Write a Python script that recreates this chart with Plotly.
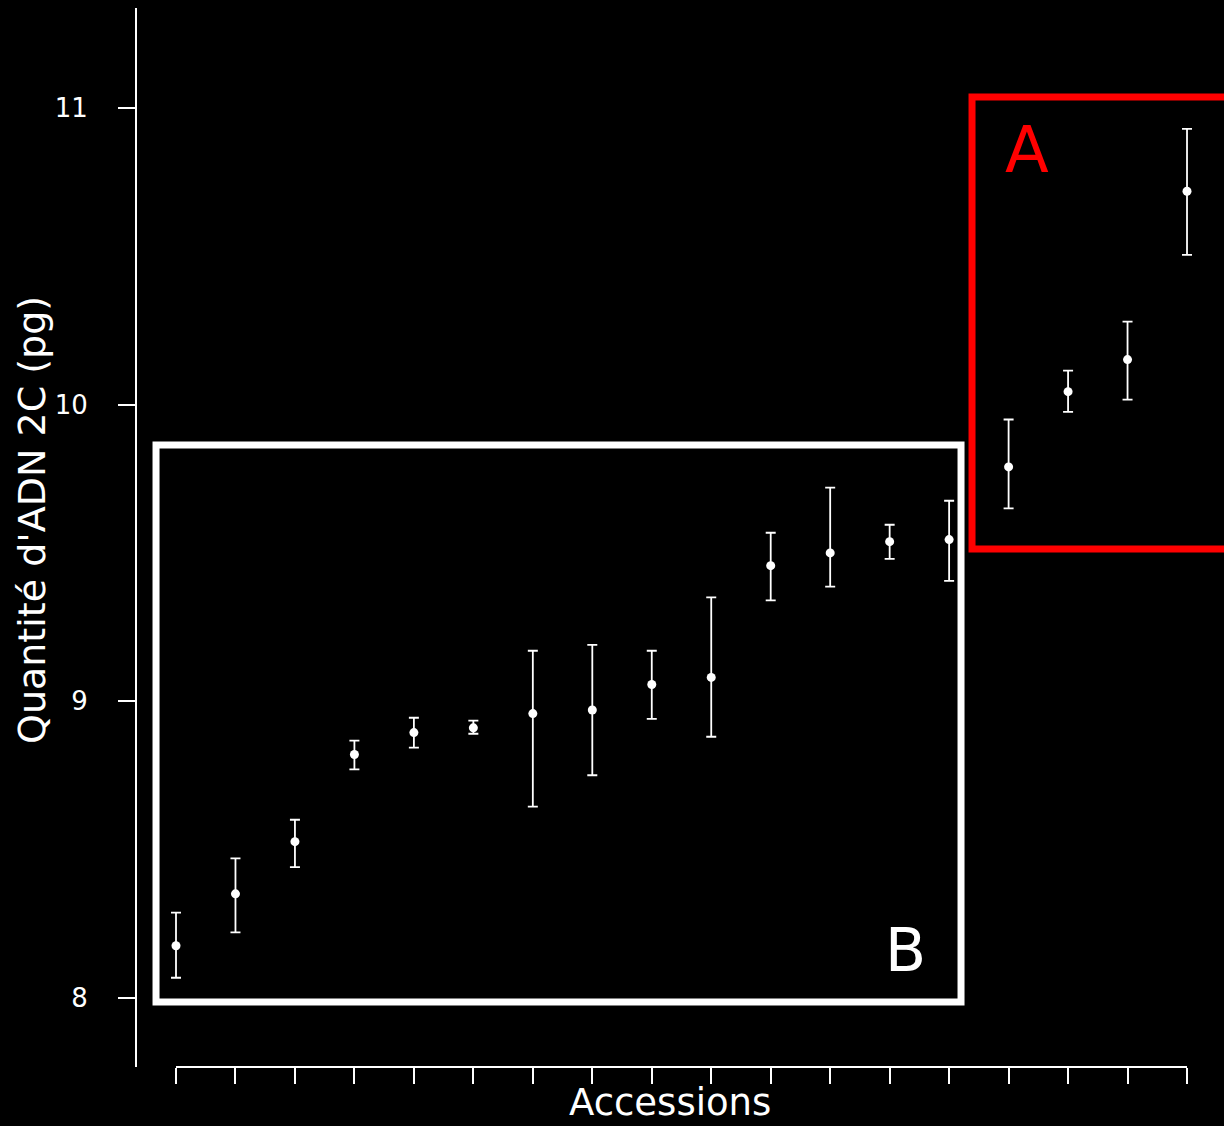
import plotly.graph_objects as go

accessions = list(range(1, 19))
dna_mean = [8.175, 8.35, 8.526, 8.82, 8.894, 8.91, 8.958, 8.97, 9.056, 9.08,
            9.457, 9.50, 9.538, 9.545, 9.79, 10.044, 10.152, 10.72]
dna_upper = [8.287, 8.47, 8.60, 8.867, 8.944, 8.934, 9.17, 9.19, 9.17, 9.35,
             9.568, 9.72, 9.595, 9.676, 9.95, 10.115, 10.28, 10.93]
dna_lower = [8.067, 8.22, 8.44, 8.77, 8.843, 8.89, 8.644, 8.75, 8.94, 8.88,
             9.34, 9.386, 9.48, 9.406, 9.65, 9.976, 10.017, 10.505]
y_ticks = [8, 9, 10, 11]

err_plus = [u - m for u, m in zip(dna_upper, dna_mean)]
err_minus = [m - l for m, l in zip(dna_mean, dna_lower)]

FONT = "DejaVu Sans"

fig = go.Figure()
fig.add_trace(go.Scatter(
    x=accessions, y=dna_mean, mode="markers",
    marker=dict(color="white", size=9),
    error_y=dict(type="data", symmetric=False, array=err_plus, arrayminus=err_minus,
                 color="white", thickness=1.8, width=5),
    showlegend=False, hoverinfo="skip"))

# Boxes
fig.add_shape(type="rect", xref="x", yref="y", x0=0.664, x1=14.2, y0=7.9855, y1=9.864,
              line=dict(color="white", width=7), layer="above")
fig.add_shape(type="rect", xref="x", yref="y", x0=14.385, x1=19.5, y0=9.513, y1=11.038,
              line=dict(color="#ff0000", width=7), layer="above")
# x axis line (between first and last tick)
fig.add_shape(type="line", xref="x", yref="paper", x0=1, x1=18, y0=0, y1=0,
              line=dict(color="white", width=2))

fig.add_annotation(x=15.31, y=10.859, text="A", showarrow=False,
                   font=dict(family=FONT, size=64, color="#ff0000"))
fig.add_annotation(x=13.26, y=8.161, text="B", showarrow=False,
                   font=dict(family=FONT, size=60, color="white"))
fig.add_annotation(xref="paper", x=(670 - 137) / (1224 - 137),
                   yref="paper", y=-(1102 - 1067) / 1059, text="Accessions",
                   showarrow=False, xanchor="center", yanchor="middle",
                   font=dict(family=FONT, size=37, color="white"))
# y-axis title
fig.add_annotation(xref="paper", x=-(137 - 32) / (1224 - 137),
                   yref="paper", y=(1067 - 520) / 1059, text="Quantité d'ADN 2C (pg)",
                   textangle=-90, showarrow=False, xanchor="center", yanchor="middle",
                   font=dict(family=FONT, size=38, color="white"))

fig.update_xaxes(range=[0.3442, 18.622], tickvals=accessions, ticktext=[""] * 18,
                 ticks="outside", ticklen=16, tickwidth=2, tickcolor="white",
                 showline=False, showgrid=False, zeroline=False)
fig.update_yaxes(range=[7.766, 11.338], tickvals=y_ticks, ticktext=[str(v) for v in y_ticks],
                 ticks="outside", ticklen=17, tickwidth=2, tickcolor="white",
                 showline=True, linecolor="white", linewidth=2,
                 showgrid=False, zeroline=False, ticklabelstandoff=25,
                 tickfont=dict(family=FONT, size=26, color="white"))

fig.update_layout(width=1224, height=1126, paper_bgcolor="black", plot_bgcolor="black",
                  margin=dict(l=137, r=0, t=8, b=59), font=dict(family=FONT, color="white"))

fig.write_html("out.html", config={"displayModeBar": False})

# remove default page margin so the figure fills the window exactly
with open("out.html", "r", encoding="utf-8") as f:
    html = f.read()
html = html.replace("<head>", "<head><style>html,body{margin:0;padding:0;background:black;overflow:hidden;}</style>", 1)
with open("out.html", "w", encoding="utf-8") as f:
    f.write(html)
